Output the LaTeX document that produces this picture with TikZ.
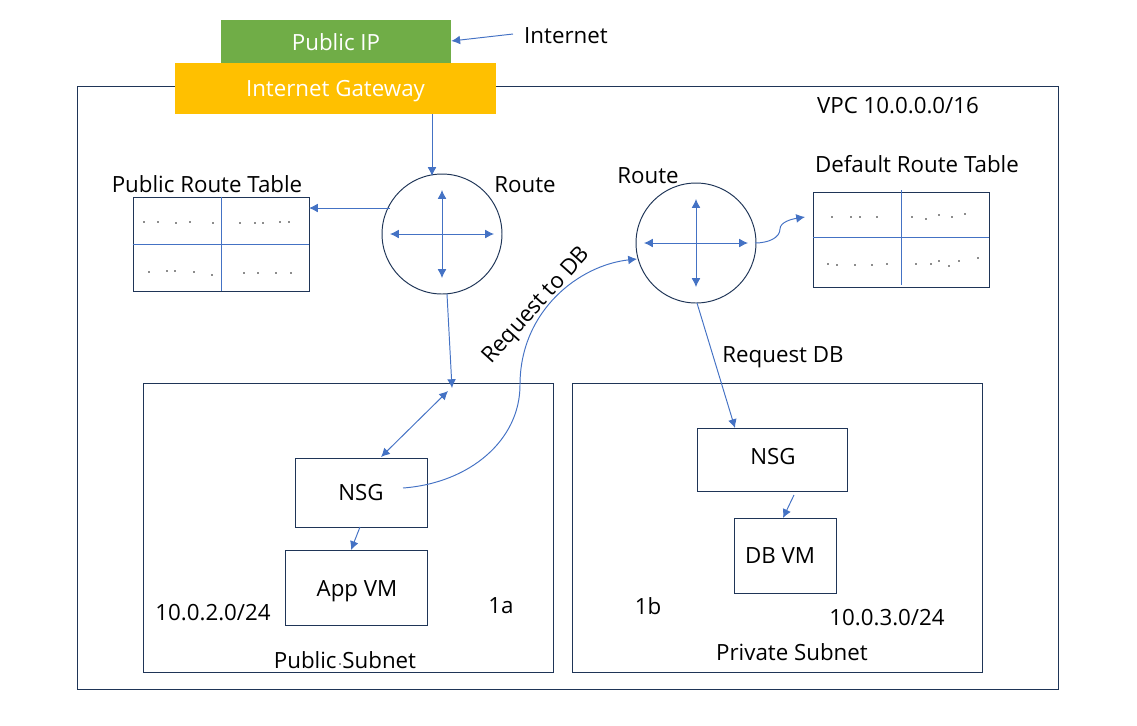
\documentclass[tikz,border=0pt]{standalone}
\usepackage{fontspec}
\setmainfont{Open Sans}
\usetikzlibrary{arrows.meta,calc,positioning}
\definecolor{boxline}{HTML}{1F3557}
\definecolor{flow}{HTML}{4472C4}
\definecolor{pubgreen}{HTML}{70AD47}
\definecolor{gateamber}{HTML}{FFC000}

\begin{document}
\begin{tikzpicture}[
      x=0.02cm,y=-0.02cm,
      box/.style={rectangle,draw=boxline,line width=0.55pt,inner sep=0pt,font=\fontsize{12.7}{15}\selectfont},
      hub/.style={circle,draw=boxline,line width=0.55pt,minimum size=2.4cm,inner sep=0pt},
      banner/.style={rectangle,inner sep=0pt,text=white,font=\fontsize{12.7}{15}\selectfont},
      lbl/.style={inner sep=0pt,font=\fontsize{12.7}{15}\selectfont},
      flowline/.style={draw=flow,line width=0.55pt},
      >={Latex[length=5pt,width=5pt]}
    ]
    \useasboundingbox (0,0) rectangle (1137,725);

    \node[box,minimum width=19.64cm,minimum height=12.08cm] (vpc) at (568,388) {};
    \node[banner,fill=pubgreen,minimum width=4.6cm,minimum height=0.88cm] (pubip) at (336,42) {Public IP};
    \node[banner,fill=gateamber,minimum width=6.42cm,minimum height=1.02cm,text depth=0pt,text height=9pt] (igw) at (335.5,88.5) {Internet Gateway};

    \node[hub] (routeA) at (442,234) {};
    \node[hub] (routeB) at (696,243) {};
    \node[box,minimum width=3.52cm,minimum height=1.88cm] (pubtable) at (221,244) {};
    \node[box,minimum width=3.52cm,minimum height=1.9cm] (deftable) at (901,239.5) {};
    \node[box,minimum width=8.2cm,minimum height=5.78cm] (pubnet) at (348.5,527.5) {};
    \node[box,minimum width=8.2cm,minimum height=5.78cm] (privnet) at (777.5,527.5) {};
    \node[box,minimum width=2.64cm,minimum height=1.38cm] (nsgA) at (361,492.5) {NSG};
    \node[box,minimum width=2.84cm,minimum height=1.5cm] (appvm) at (356,587.5) {};
    \node[box,minimum width=3cm,minimum height=1.26cm] (nsgB) at (772,459.5) {};
    \node[box,minimum width=2.04cm,minimum height=1.5cm] (dbvm) at (785,555.5) {};

    \node[lbl] (appvmtxt) at (357,591) {App VM};
    \node[lbl] (nsgBtxt) at (773,457) {NSG};
    \node[lbl] (dbvmtxt) at (780,556) {DB VM};
    \node[lbl] (inet) at (566,36) {Internet};
    \node[lbl] (vpctxt) at (898,106) {VPC 10.0.0.0/16};
    \node[lbl] (pubtxt) at (207,184) {Public Route Table};
    \node[lbl] (deftxt) at (917,164) {Default Route Table};
    \node[lbl] (routeAtxt) at (525,185) {Route};
    \node[lbl] (routeBtxt) at (648,176) {Route};
    \node[lbl] (reqdb) at (783,357) {Request DB};
    \node[lbl,rotate=48] (reqtodb) at (537,306) {Request to DB};
    \node[lbl] (cidrA) at (213,613) {10.0.2.0/24};
    \node[lbl] (cidrB) at (887,618) {10.0.3.0/24};
    \node[lbl] (azA) at (501,606) {1a};
    \node[lbl] (azB) at (648,606) {1b};
    \node[lbl] (pubnettxt) at (345,660) {Public Subnet};
    \node[lbl] (privnettxt) at (792,652) {Private Subnet};

    % table grids
    \draw[flowline] (pubtable.north) -- (pubtable.south);
    \draw[flowline] (pubtable.west) -- (pubtable.east);
    \draw[flowline] (901,190) -- (901,285);
    \draw[flowline] (813,237) -- (989,237);
    \foreach \px/\py in {144/222,158/222,176/223,190/222,213/223,240/223,255/223,263/223,280/222,289/222,
        149/272,167/271,175/271,194/272,212/275,244/273,258/273,276/273,291/273,
        832/217,851/217,860/217,877/217,912/217,926/219,939/215,952/217,965/214,
        828/264,837/265,855/265,872/265,887/264,916/264,931/264,939/261,949/266,959/261,978/258,
        340/664}
      \fill[black!90] (\px,\py) circle (0.55pt);

    % arrows inside the two routers
    \foreach \hub in {routeA,routeB} {
      \draw[flowline,<->] ($(\hub.center)+(-52,0)$) -- ($(\hub.center)+(52,0)$);
      \draw[flowline,<->] ($(\hub.center)+(0,-44)$) -- ($(\hub.center)+(0,44)$);
    }

    \coordinate (inetend) at (513,34);
    \coordinate (gateout) at (432,114);
    \coordinate (hubin) at (432,176);
    \coordinate (tapA) at (390,208);
    \coordinate (tabin) at (309,208);
    \coordinate (routeAout) at (447,294);
    \coordinate (netpoint) at (452,388);
    \coordinate (netpointB) at (448,391);
    \coordinate (nsgAtop) at (381,457);
    \coordinate (nsgAmid) at (403,488);
    \coordinate (curvemid) at (520,385);
    \coordinate (routeBin) at (637,259);
    \coordinate (routeBout) at (697,303);
    \coordinate (nsgBin) at (735,428);
    \coordinate (nsgBout) at (794,495);
    \coordinate (dbin) at (783,518);
    \coordinate (nsgAout) at (360,527);
    \coordinate (appin) at (351,550);
    \coordinate (routeBtap) at (755,243);
    \coordinate (tabmid) at (780,229);
    \coordinate (tabBin) at (805,217);

    \draw[flowline,->] (inetend) -- (pubip.east |- 0,41);
    \draw[flowline,->] (gateout) -- (hubin);
    \draw[flowline,->] (tapA) -- (tabin);
    \draw[flowline,->] (routeAout) -- (netpoint);
    \draw[flowline,<->] (netpointB) -- (nsgAtop);
    \draw[flowline,->] (nsgAout) -- (appin);
    \draw[flowline,->] (routeBout) -- (nsgBin);
    \draw[flowline,->] (nsgBout) -- (dbin);
    \draw[flowline,->] (nsgAmid) .. controls (470,483) and (520,440) .. (curvemid)
      .. controls (520,310) and (580,265) .. (routeBin);
    \draw[flowline,->] (routeBtap) .. controls (768,243) and (780,238) .. (tabmid)
      .. controls (780,222) and (792,219) .. (tabBin);
  \end{tikzpicture}
\end{document}
